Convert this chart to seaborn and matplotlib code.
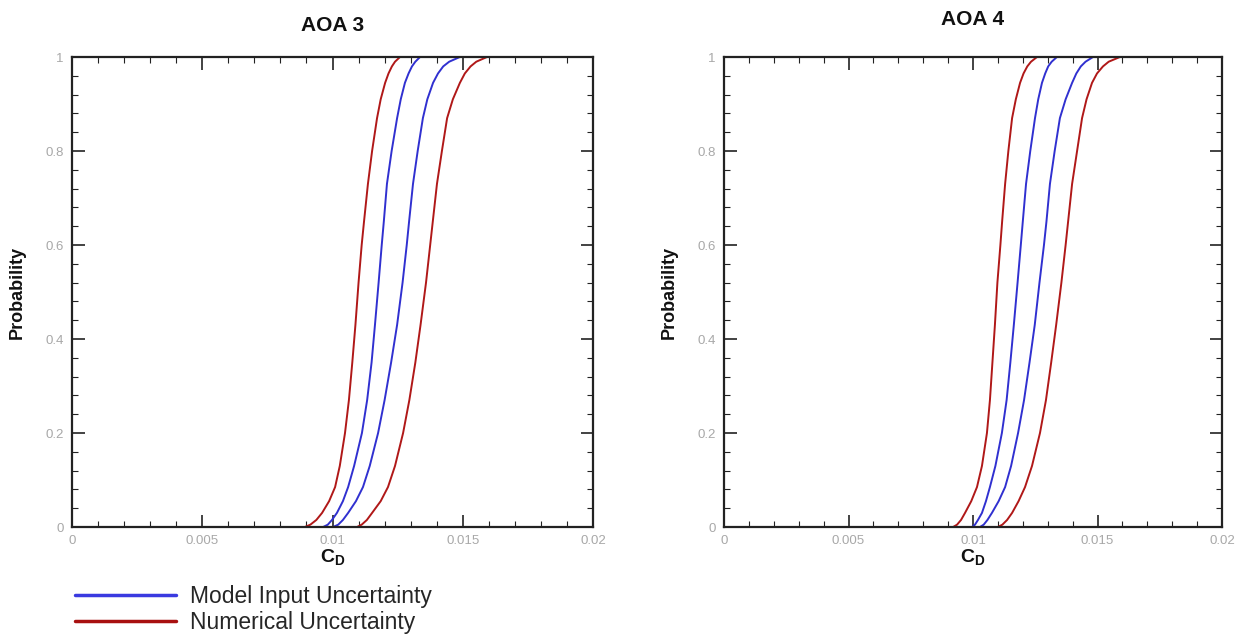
import numpy as np
import pandas as pd
import matplotlib
matplotlib.use("Agg")
import matplotlib.pyplot as plt
from matplotlib.ticker import MultipleLocator, FuncFormatter
from matplotlib.lines import Line2D
import seaborn as sns

# Probability levels at which the curves were read
prob = [0, 0.005, 0.015, 0.03, 0.055, 0.085, 0.13, 0.2, 0.27, 0.35, 0.43, 0.52,
        0.6, 0.65, 0.73, 0.8, 0.87, 0.91, 0.945, 0.965, 0.98, 0.99, 1.0]

# AOA 3 curves (C_D values at each probability level)
aoa3_num_low = [0.00894, 0.00915, 0.00938, 0.00960, 0.00987, 0.01010, 0.01028, 0.01048, 0.01063, 0.01076, 0.01088, 0.01100,
                0.01112, 0.01121, 0.01136, 0.01152, 0.01171, 0.01185, 0.01202, 0.01215, 0.01228, 0.01240, 0.01259]
aoa3_mod_low = [0.00964, 0.00982, 0.00998, 0.01017, 0.01040, 0.01060, 0.01083, 0.01113, 0.01133, 0.01150, 0.01163, 0.01177,
                0.01189, 0.01197, 0.01209, 0.01227, 0.01248, 0.01262, 0.01278, 0.01292, 0.01305, 0.01318, 0.01336]
aoa3_mod_high = [0.01002, 0.01022, 0.01040, 0.01060, 0.01090, 0.01117, 0.01143, 0.01175, 0.01200, 0.01225, 0.01248, 0.01269,
                 0.01285, 0.01294, 0.01309, 0.01327, 0.01347, 0.01364, 0.01386, 0.01405, 0.01425, 0.01448, 0.01489]
aoa3_num_high = [0.01094, 0.01112, 0.01132, 0.01152, 0.01185, 0.01213, 0.01240, 0.01271, 0.01295, 0.01318, 0.01338, 0.01359,
                 0.01375, 0.01385, 0.01401, 0.01420, 0.01440, 0.01462, 0.01489, 0.01508, 0.01530, 0.01552, 0.01593]

# AOA 4 curves
aoa4_num_low = [0.00920, 0.00936, 0.00952, 0.00968, 0.00993, 0.01016, 0.01036, 0.01056, 0.01068, 0.01078, 0.01088, 0.01098,
                0.01110, 0.01117, 0.01129, 0.01142, 0.01157, 0.01172, 0.01189, 0.01203, 0.01218, 0.01233, 0.01257]
aoa4_mod_low = [0.00996, 0.01008, 0.01020, 0.01036, 0.01052, 0.01068, 0.01090, 0.01116, 0.01135, 0.01150, 0.01164, 0.01179,
                0.01192, 0.01200, 0.01213, 0.01230, 0.01249, 0.01262, 0.01277, 0.01290, 0.01302, 0.01316, 0.01337]
aoa4_mod_high = [0.01028, 0.01043, 0.01058, 0.01076, 0.01103, 0.01129, 0.01153, 0.01181, 0.01205, 0.01227, 0.01248, 0.01267,
                 0.01285, 0.01295, 0.01309, 0.01328, 0.01349, 0.01372, 0.01398, 0.01415, 0.01433, 0.01452, 0.01482]
aoa4_num_high = [0.01100, 0.01118, 0.01137, 0.01157, 0.01183, 0.01209, 0.01237, 0.01269, 0.01293, 0.01314, 0.01334, 0.01355,
                 0.01372, 0.01382, 0.01398, 0.01418, 0.01438, 0.01456, 0.01478, 0.01498, 0.01522, 0.01545, 0.01590]

titles = ["AOA 3", "AOA 4"]
legend_labels = ["Model Input Uncertainty", "Numerical Uncertainty"]
x_ticks = [0, 0.005, 0.01, 0.015, 0.02]
y_ticks = [0, 0.2, 0.4, 0.6, 0.8, 1.0]

BLUE = "#3030d0"
RED = "#b01818"

sns.set_style("ticks")
plt.rcParams["font.family"] = ["Liberation Sans", "DejaVu Sans"]
plt.rcParams["mathtext.fontset"] = "custom"
plt.rcParams["mathtext.bf"] = "Liberation Sans:bold"
plt.rcParams["mathtext.rm"] = "Liberation Sans"

fig = plt.figure(figsize=(12.48, 6.37), dpi=100)
ax1 = fig.add_axes([72/1248, 1-527/637, (593-72)/1248, (527-57)/637])
ax2 = fig.add_axes([724/1248, 1-527/637, (1222-724)/1248, (527-57)/637])

panels = [
    (ax1, [(aoa3_num_low, "num"), (aoa3_mod_low, "mod"), (aoa3_mod_high, "mod"), (aoa3_num_high, "num")]),
    (ax2, [(aoa4_num_low, "num"), (aoa4_mod_low, "mod"), (aoa4_mod_high, "mod"), (aoa4_num_high, "num")]),
]
title_pads = [19, 23]

fmt = FuncFormatter(lambda v, p: ("%g" % round(v, 4)))

for i, (ax, curves) in enumerate(panels):
    for j, (xs, kind) in enumerate(curves):
        df = pd.DataFrame({"CD": xs, "P": prob})
        sns.lineplot(data=df, x="CD", y="P", ax=ax, sort=False, estimator=None,
                     color=BLUE if kind == "mod" else RED, lw=1.4)
    ax.set_xlim(0, 0.02)
    ax.set_ylim(0, 1)
    ax.set_xticks(x_ticks)
    ax.set_yticks(y_ticks)
    ax.xaxis.set_minor_locator(MultipleLocator(0.001))
    ax.yaxis.set_minor_locator(MultipleLocator(0.04))
    ax.xaxis.set_major_formatter(fmt)
    ax.yaxis.set_major_formatter(fmt)
    ax.tick_params(which="both", direction="in", top=True, right=True,
                   labelcolor="#a8a8a8", labelsize=9.5, color="#222222")
    ax.tick_params(which="major", length=9, width=1.2, pad=6)
    ax.tick_params(which="minor", length=4, width=0.8)
    for s in ax.spines.values():
        s.set_linewidth(1.6)
        s.set_color("#222222")
    ax.set_xlabel(r"$\mathbf{C_D}$", fontsize=14, labelpad=0, color="#111111")
    ax.set_ylabel("Probability", fontsize=13, fontweight="bold", labelpad=14, color="#111111")
    ax.set_title(titles[i], fontsize=15, fontweight="bold", pad=title_pads[i], color="#111111")

handles = [Line2D([], [], color="#3a3ae0", lw=2.5), Line2D([], [], color="#a81010", lw=2.5)]
fig.legend(handles, legend_labels, loc="lower left", bbox_to_anchor=(64/1248, -0.014),
           frameon=False, fontsize=16.5, handlelength=4.4, handletextpad=0.6,
           labelspacing=0.15, borderaxespad=0.1)

fig.savefig("out.png", dpi=100)
